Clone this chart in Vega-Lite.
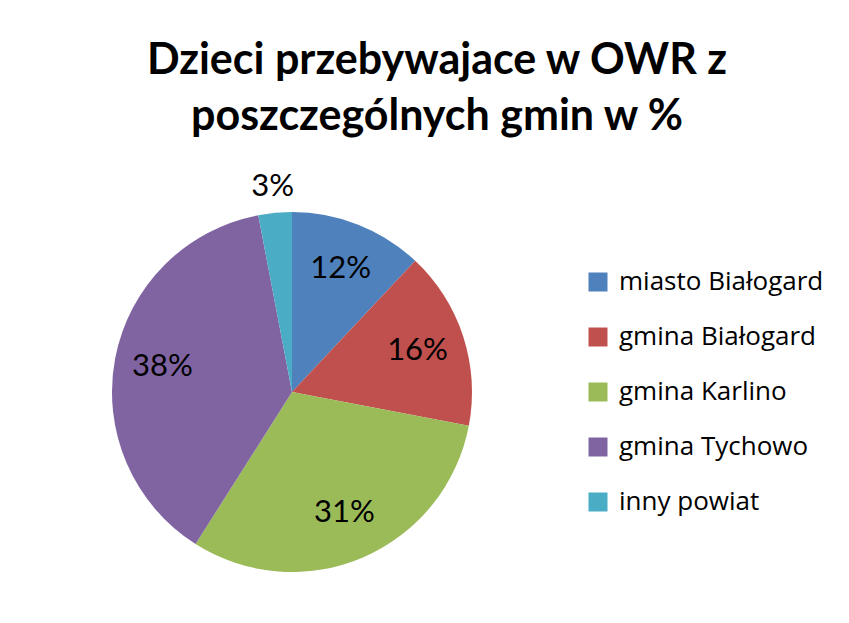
{
  "$schema": "https://vega.github.io/schema/vega-lite/v6.json",
  "width": 360,
  "height": 360,
  "autosize": {"type": "none"},
  "padding": {"left": 112, "top": 212, "right": 377, "bottom": 51},
  "background": "white",
  "title": {
    "text": ["Dzieci przebywajace w OWR z", "poszczególnych gmin w %"],
    "font": "Lato",
    "fontSize": 43,
    "fontWeight": "bold",
    "color": "black",
    "anchor": "middle",
    "dx": 145,
    "offset": 32,
    "lineHeight": 56
  },
  "data": {
    "values": [
      {"gmina": "miasto Białogard", "procent": 12, "kolejnosc": 1, "etykieta": "12%"},
      {"gmina": "gmina Białogard", "procent": 16, "kolejnosc": 2, "etykieta": "16%"},
      {"gmina": "gmina Karlino", "procent": 31, "kolejnosc": 3, "etykieta": "31%"},
      {"gmina": "gmina Tychowo", "procent": 38, "kolejnosc": 4, "etykieta": "38%"},
      {"gmina": "inny powiat", "procent": 3, "kolejnosc": 5, "etykieta": "3%"}
    ]
  },
  "encoding": {
    "theta": {"field": "procent", "type": "quantitative", "stack": true},
    "order": {"field": "kolejnosc", "type": "quantitative"}
  },
  "layer": [
    {
      "mark": {"type": "arc", "outerRadius": 180, "stroke": null},
      "encoding": {
        "color": {
          "field": "gmina",
          "type": "nominal",
          "scale": {
            "domain": ["miasto Białogard", "gmina Białogard", "gmina Karlino", "gmina Tychowo", "inny powiat"],
            "range": ["#4F81BD", "#C0504D", "#9BBB59", "#8064A2", "#4BACC6"]
          },
          "sort": null,
          "legend": {
            "title": null,
            "orient": "none",
            "legendX": 473,
            "legendY": 57,
            "symbolType": "square",
            "symbolSize": 361,
            "symbolStrokeWidth": 0,
            "labelFont": "Open Sans",
            "labelFontSize": 26,
            "labelColor": "black",
            "labelOffset": 8,
            "labelLimit": 400,
            "rowPadding": 29
          }
        }
      }
    },
    {
      "mark": {"type": "text", "radius": 132, "fontSize": 31, "font": "Lato", "color": "black"},
      "encoding": {
        "text": {"condition": {"test": "datum.procent > 5", "field": "etykieta"}, "value": ""}
      }
    },
    {
      "mark": {"type": "text", "radius": 206, "fontSize": 31, "font": "Lato", "color": "black"},
      "encoding": {
        "text": {"condition": {"test": "datum.procent <= 5", "field": "etykieta"}, "value": ""}
      }
    }
  ]
}
